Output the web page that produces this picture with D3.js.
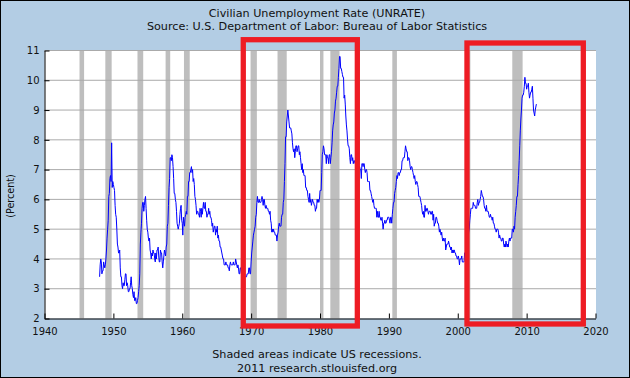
<!DOCTYPE html>
<html><head><meta charset="utf-8">
<script src="https://cdn.jsdelivr.net/npm/d3@7"></script>
<style>
html,body{margin:0;padding:0;background:#fff;}
svg{display:block;}
text{font-family:"DejaVu Sans",Verdana,sans-serif;fill:#111;}
</style></head>
<body>
<svg id="c" width="630" height="378"></svg>
<script>
// Monthly civilian unemployment rate (%), starting January 1948
const startYear = 1948;
const unrate = [
3.4,3.8,4.0,3.9,3.5,3.6,3.6,3.9,3.8,3.7,3.8,4.0,
4.3,4.7,5.0,5.3,6.1,6.2,6.7,6.8,6.6,7.9,6.4,6.6,
6.5,6.4,6.3,5.8,5.5,5.4,5.0,4.5,4.4,4.2,4.2,4.3,
3.7,3.4,3.4,3.1,3.0,3.2,3.1,3.1,3.3,3.5,3.5,3.1,
3.2,3.1,2.9,2.9,3.0,3.0,3.2,3.4,3.1,3.0,2.8,2.7,
2.9,2.6,2.6,2.7,2.5,2.5,2.6,2.7,2.9,3.1,3.5,4.5,
4.9,5.2,5.7,5.9,5.9,5.6,5.8,6.0,6.1,5.7,5.3,5.0,
4.9,4.7,4.6,4.7,4.3,4.2,4.0,4.2,4.1,4.3,4.2,4.2,
4.0,3.9,4.2,4.0,4.3,4.3,4.4,4.1,3.9,3.9,4.3,4.2,
4.2,3.9,3.7,3.9,4.1,4.3,4.2,4.1,4.4,4.5,5.1,5.2,
5.8,6.4,6.7,7.4,7.4,7.3,7.5,7.4,7.1,6.7,6.2,6.2,
6.0,5.9,5.6,5.2,5.1,5.0,5.1,5.2,5.5,5.7,5.8,5.3,
5.2,4.8,5.4,5.2,5.1,5.4,5.5,5.6,5.5,6.1,6.1,6.6,
6.6,6.9,6.9,7.0,7.1,6.9,7.0,6.6,6.7,6.5,6.1,6.0,
5.8,5.5,5.6,5.6,5.5,5.5,5.4,5.7,5.6,5.4,5.7,5.5,
5.7,5.9,5.7,5.7,5.9,5.6,5.6,5.4,5.5,5.5,5.7,5.5,
5.6,5.4,5.4,5.3,5.1,5.2,4.9,5.0,5.1,5.1,4.8,5.0,
4.9,5.1,4.7,4.8,4.6,4.6,4.4,4.4,4.3,4.2,4.1,4.0,
4.0,3.8,3.8,3.8,3.9,3.8,3.8,3.8,3.7,3.7,3.6,3.8,
3.9,3.8,3.8,3.8,3.8,3.9,3.8,3.8,3.8,4.0,3.9,3.8,
3.7,3.8,3.7,3.5,3.5,3.7,3.7,3.5,3.4,3.4,3.4,3.4,
3.4,3.4,3.4,3.4,3.4,3.5,3.5,3.5,3.7,3.7,3.5,3.5,
3.9,4.2,4.4,4.6,4.8,4.9,5.0,5.1,5.4,5.5,5.9,6.1,
5.9,5.9,6.0,5.9,5.9,5.9,6.0,6.1,6.0,5.8,6.0,6.0,
5.8,5.7,5.8,5.7,5.7,5.7,5.6,5.6,5.5,5.6,5.3,5.2,
4.9,5.0,4.9,5.0,4.9,4.9,4.8,4.8,4.8,4.6,4.8,4.9,
5.1,5.2,5.1,5.1,5.1,5.4,5.5,5.5,5.9,6.0,6.6,7.2,
8.1,8.1,8.6,8.8,9.0,8.8,8.6,8.4,8.4,8.4,8.3,8.2,
7.9,7.7,7.6,7.7,7.4,7.6,7.8,7.8,7.6,7.7,7.8,7.8,
7.5,7.6,7.4,7.2,7.0,7.2,6.9,7.0,6.8,6.8,6.8,6.4,
6.4,6.3,6.3,6.1,6.0,5.9,6.2,5.9,6.0,5.8,5.9,6.0,
5.9,5.9,5.8,5.8,5.6,5.7,5.7,6.0,5.9,6.0,5.9,6.0,
6.3,6.3,6.3,6.9,7.5,7.6,7.8,7.7,7.5,7.5,7.5,7.2,
7.5,7.4,7.4,7.2,7.5,7.5,7.2,7.4,7.6,7.9,8.3,8.5,
8.6,8.9,9.0,9.3,9.4,9.6,9.8,9.8,10.1,10.4,10.8,10.8,
10.4,10.4,10.3,10.2,10.1,10.1,9.4,9.5,9.2,8.8,8.5,8.3,
8.0,7.8,7.8,7.7,7.4,7.2,7.5,7.5,7.3,7.4,7.2,7.3,
7.3,7.2,7.2,7.3,7.2,7.4,7.4,7.1,7.1,7.1,7.0,7.0,
6.7,7.2,7.2,7.1,7.2,7.2,7.0,6.9,7.0,7.0,6.9,6.6,
6.6,6.6,6.6,6.3,6.3,6.2,6.1,6.0,5.9,6.0,5.8,5.7,
5.7,5.7,5.7,5.4,5.6,5.4,5.4,5.6,5.4,5.4,5.3,5.3,
5.4,5.2,5.0,5.2,5.2,5.3,5.2,5.2,5.3,5.3,5.4,5.4,
5.4,5.3,5.2,5.4,5.4,5.2,5.5,5.7,5.9,5.9,6.2,6.3,
6.4,6.6,6.8,6.7,6.9,6.9,6.8,6.9,6.9,7.0,7.0,7.3,
7.3,7.4,7.4,7.4,7.6,7.8,7.7,7.6,7.6,7.3,7.4,7.4,
7.3,7.1,7.0,7.1,7.1,7.0,6.9,6.8,6.7,6.8,6.6,6.5,
6.6,6.6,6.5,6.4,6.1,6.1,6.1,6.0,5.9,5.8,5.6,5.5,
5.6,5.4,5.4,5.8,5.6,5.6,5.7,5.7,5.6,5.5,5.6,5.6,
5.6,5.5,5.5,5.6,5.6,5.3,5.5,5.1,5.2,5.2,5.4,5.4,
5.3,5.2,5.2,5.1,4.9,5.0,4.9,4.8,4.9,4.7,4.6,4.7,
4.6,4.6,4.7,4.3,4.4,4.5,4.5,4.5,4.6,4.5,4.4,4.4,
4.3,4.4,4.2,4.3,4.2,4.3,4.3,4.2,4.2,4.1,4.1,4.0,
4.0,4.1,4.0,3.8,4.0,4.0,4.0,4.1,3.9,3.9,3.9,3.9,
4.2,4.2,4.3,4.4,4.3,4.5,4.6,4.9,5.0,5.3,5.5,5.7,
5.7,5.7,5.7,5.9,5.8,5.8,5.8,5.7,5.7,5.7,5.9,6.0,
5.8,5.9,5.9,6.0,6.1,6.3,6.2,6.1,6.1,6.0,5.8,5.7,
5.7,5.6,5.8,5.6,5.6,5.6,5.5,5.4,5.4,5.5,5.4,5.4,
5.3,5.4,5.2,5.2,5.1,5.0,5.0,4.9,5.0,5.0,5.0,4.9,
4.7,4.8,4.7,4.7,4.6,4.6,4.7,4.7,4.5,4.4,4.5,4.4,
4.6,4.5,4.4,4.5,4.4,4.6,4.7,4.6,4.7,4.7,4.7,5.0,
5.0,4.9,5.1,5.0,5.4,5.6,5.8,6.1,6.1,6.5,6.8,7.3,
7.8,8.3,8.7,9.0,9.4,9.5,9.5,9.6,9.8,10.1,9.9,9.9,
9.7,9.8,9.8,9.9,9.6,9.4,9.5,9.6,9.6,9.7,9.8,9.4,
9.0,8.9,8.8,9.0,9.1,9.2
];
// NBER recessions (fractional years, peak month to trough month)
const recessionStart = [1945.083,1948.833,1953.5,1957.583,1960.25,1969.917,1973.833,1980.0,1981.5,1990.5,2001.167,2007.917];
const recessionEnd   = [1945.75,1949.75,1954.333,1958.25,1961.083,1970.833,1975.167,1980.5,1982.833,1991.167,2001.833,2009.417];
const xTicks = [1940,1950,1960,1970,1980,1990,2000,2010,2020];
const yTicks = [2,3,4,5,6,7,8,9,10,11];
// Highlight boxes (year span)
const boxX0 = [1968.86, 2001.34];
const boxX1 = [1985.42, 2018.23];

const titleText = "Civilian Unemployment Rate (UNRATE)";
const sourceText = "Source: U.S. Department of Labor: Bureau of Labor Statistics";
const noteText = "Shaded areas indicate US recessions.";
const creditText = "2011 research.stlouisfed.org";
const yLabel = "(Percent)";

const svg = d3.select("#c");
const W = 630, H = 378;
const x = d3.scaleLinear().domain([1940,2020]).range([44.5,595.5]);
const y = d3.scaleLinear().domain([2,11]).range([318.5,50.5]);

svg.append("rect").attr("x",0.5).attr("y",0.5).attr("width",W-1).attr("height",H-1)
  .attr("fill","#b3cde4").attr("stroke","#000").attr("stroke-width",1);

svg.append("rect").attr("x",x(1940)).attr("y",y(11)).attr("width",596-x(1940)).attr("height",y(2)-y(11))
  .attr("fill","#fff");

// recessions
svg.append("g").selectAll("rect").data(recessionStart).join("rect")
  .attr("x",(d)=>x(d)).attr("width",(d,i)=>x(recessionEnd[i])-x(d))
  .attr("y",y(11)).attr("height",y(2)-y(11)).attr("fill","#bebebe");

// gridlines
svg.append("g").selectAll("line").data(yTicks.filter(d=>d>2)).join("line")
  .attr("x1",x(1940)).attr("x2",596).attr("y1",d=>y(d)).attr("y2",d=>y(d))
  .attr("stroke","#aaaaaa").attr("stroke-width",1);

// line
const line = d3.line().x((d,i)=>x(startYear+i/12)).y(d=>y(d));
svg.append("path").datum(unrate).attr("d",line).attr("fill","none")
  .attr("stroke","#0000ff").attr("stroke-width",1);

// axes
const xAxis = d3.axisBottom(x).tickValues(xTicks).tickFormat(d3.format("d")).tickSizeInner(-5).tickSizeOuter(0).tickPadding(9);
const gx = svg.append("g").attr("transform",`translate(0,${y(2)})`).call(xAxis);
gx.select(".domain").attr("stroke","#000");
gx.selectAll(".tick line").attr("stroke","#000");
gx.selectAll("text").style("font-size","10px").attr("fill","#111");

const yAxis = d3.axisLeft(y).tickValues(yTicks).tickSizeInner(-5).tickSizeOuter(0).tickPadding(5);
const gy = svg.append("g").attr("transform",`translate(${x(1940)},0)`).call(yAxis);
gy.select(".domain").attr("stroke","#000");
gy.selectAll(".tick line").attr("stroke","#000");
gy.selectAll("text").style("font-size","10px").attr("fill","#111");

// highlight boxes
svg.append("g").selectAll("rect").data(boxX0).join("rect")
  .attr("x",d=>x(d)).attr("width",(d,i)=>x(boxX1[i])-x(d))
  .attr("y",(d,i)=>i===0?39.7:43).attr("height",(d,i)=>i===0?326-39.7:324-43)
  .attr("fill","none").attr("stroke","#ee1c24").attr("stroke-width",5.3);

// texts
svg.append("text").attr("x",317).attr("y",17).attr("text-anchor","middle").style("font-size","11.2px").text(titleText);
svg.append("text").attr("x",317).attr("y",29.5).attr("text-anchor","middle").style("font-size","11.2px").text(sourceText);
svg.append("text").attr("x",317).attr("y",358).attr("text-anchor","middle").style("font-size","11.2px").text(noteText);
svg.append("text").attr("x",317).attr("y",371.5).attr("text-anchor","middle").style("font-size","11.2px").text(creditText);
svg.append("text").attr("transform",`translate(14,196) rotate(-90)`).attr("text-anchor","middle").style("font-size","9.6px").text(yLabel);
</script>
</body></html>
